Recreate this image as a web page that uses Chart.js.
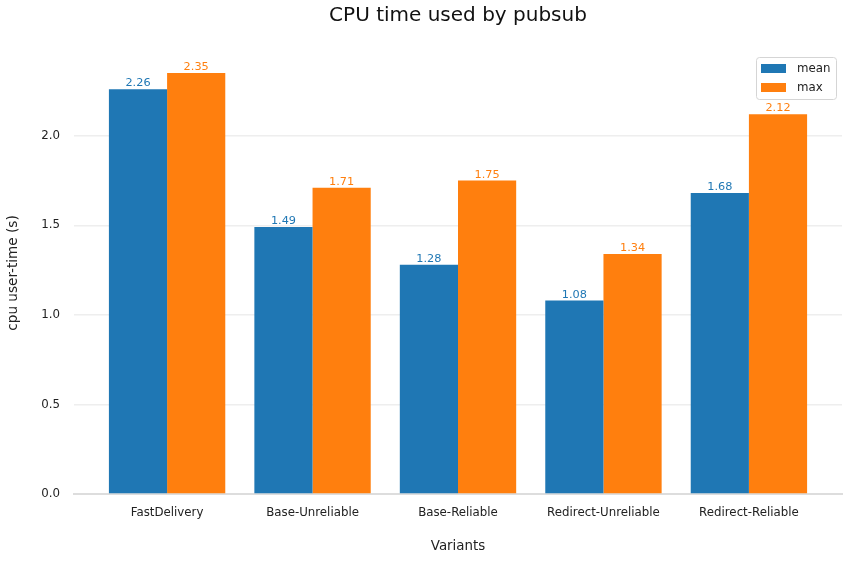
<!DOCTYPE html>
<html><head><meta charset="utf-8">
<script src="https://cdn.jsdelivr.net/npm/chart.js@4"></script>
<style>html,body{margin:0;padding:0;background:#fff}</style>
</head><body>
<canvas id="c" width="849" height="561"></canvas>
<script>
const categories = ['FastDelivery','Base-Unreliable','Base-Reliable','Redirect-Unreliable','Redirect-Reliable'];
const meanValues = [2.26, 1.49, 1.28, 1.08, 1.68];
const maxValues = [2.35, 1.71, 1.75, 1.34, 2.12];
const yTicks = [0, 0.5, 1.0, 1.5, 2.0];
const seriesNames = ['mean', 'max'];

const FONT = "'DejaVu Sans', sans-serif";
const TXT = '#222222';
const BLUE = '#1f77b4', ORANGE = '#ff7f0e';

const labelsPlugin = {
  id: 'valueLabels',
  afterDatasetsDraw(chart) {
    const ctx = chart.ctx;
    ctx.save();
    ctx.font = '11.3px ' + FONT;
    ctx.textAlign = 'center';
    ctx.textBaseline = 'alphabetic';
    chart.data.datasets.forEach((ds, di) => {
      const meta = chart.getDatasetMeta(di);
      ctx.fillStyle = ds.backgroundColor;
      meta.data.forEach((bar, i) => {
        const v = ds.data[i].y;
        ctx.fillText(v.toFixed(2), bar.x, bar.y - 3);
      });
    });
    ctx.restore();
  }
};

const legendPlugin = {
  id: 'insetLegend',
  afterDraw(chart) {
    const ctx = chart.ctx, a = chart.chartArea;
    const w = 80, h = 42;
    const x = a.right - 6 - w, y = a.top + 5;
    ctx.save();
    ctx.beginPath();
    ctx.roundRect(x + 0.5, y + 0.5, w, h, 3);
    ctx.fillStyle = 'rgba(255,255,255,0.8)';
    ctx.fill();
    ctx.strokeStyle = '#d5d5d5';
    ctx.lineWidth = 1;
    ctx.stroke();
    ctx.font = '11.8px ' + FONT;
    ctx.textBaseline = 'middle';
    ctx.textAlign = 'left';
    chart.data.datasets.forEach((ds, i) => {
      const ry = y + 7 + i * 19;
      ctx.fillStyle = ds.backgroundColor;
      ctx.fillRect(x + 5, ry, 25, 9);
      ctx.fillStyle = TXT;
      ctx.fillText(ds.label, x + 41, ry + 5);
    });
    ctx.restore();
  }
};

const titlePlugin = {
  id: 'axesTitle',
  afterDraw(chart) {
    const ctx = chart.ctx, a = chart.chartArea;
    ctx.save();
    ctx.font = '20px ' + FONT;
    ctx.fillStyle = '#111';
    ctx.textAlign = 'center';
    ctx.textBaseline = 'middle';
    ctx.fillText('CPU time used by pubsub', (a.left + a.right) / 2, 16);
    ctx.restore();
  }
};

new Chart(document.getElementById('c'), {
  type: 'bar',
  data: {
    datasets: [
      { label: seriesNames[0], data: meanValues.map((v, i) => ({x: i, y: v})), backgroundColor: BLUE, borderWidth: 0 },
      { label: seriesNames[1], data: maxValues.map((v, i) => ({x: i, y: v})), backgroundColor: ORANGE, borderWidth: 0 }
    ]
  },
  options: {
    responsive: false,
    animation: false,
    devicePixelRatio: 1,
    layout: { padding: { top: 52, right: 7, left: 0, bottom: 0 } },
    datasets: { bar: { categoryPercentage: 0.8, barPercentage: 1.0 } },
    scales: {
      x: {
        type: 'linear', min: -0.64, max: 4.64, offset: false,
        afterBuildTicks: s => { s.ticks = categories.map((c, i) => ({ value: i })); },
        ticks: { callback: v => categories[v], font: { family: FONT, size: 11.8 }, color: TXT, padding: 12, autoSkip: false, maxRotation: 0 },
        grid: { display: false, drawTicks: false },
        border: { display: true, color: '#dddddd', width: 2 },
        title: { display: true, text: 'Variants', font: { family: FONT, size: 13.4 }, color: TXT, padding: { top: 0, bottom: 6 } },
        afterFit: s => { s.height = 67; }
      },
      y: {
        min: 0, max: 2.4675,
        afterBuildTicks: s => { s.ticks = yTicks.map(v => ({ value: v })); },
        ticks: { callback: v => v.toFixed(1), font: { family: FONT, size: 11.8 }, color: TXT, padding: 14 },
        grid: { color: '#eeeeee', lineWidth: 1.5, drawTicks: false },
        border: { display: false },
        title: { display: true, text: 'cpu user-time (s)', font: { family: FONT, size: 13.6 }, color: TXT, padding: { top: 5.5, bottom: 0 } },
        afterFit: s => { s.width = 74; }
      }
    },
    plugins: { legend: { display: false }, title: { display: false }, tooltip: { enabled: false } }
  },
  plugins: [labelsPlugin, legendPlugin, titlePlugin]
});
</script>
</body></html>
